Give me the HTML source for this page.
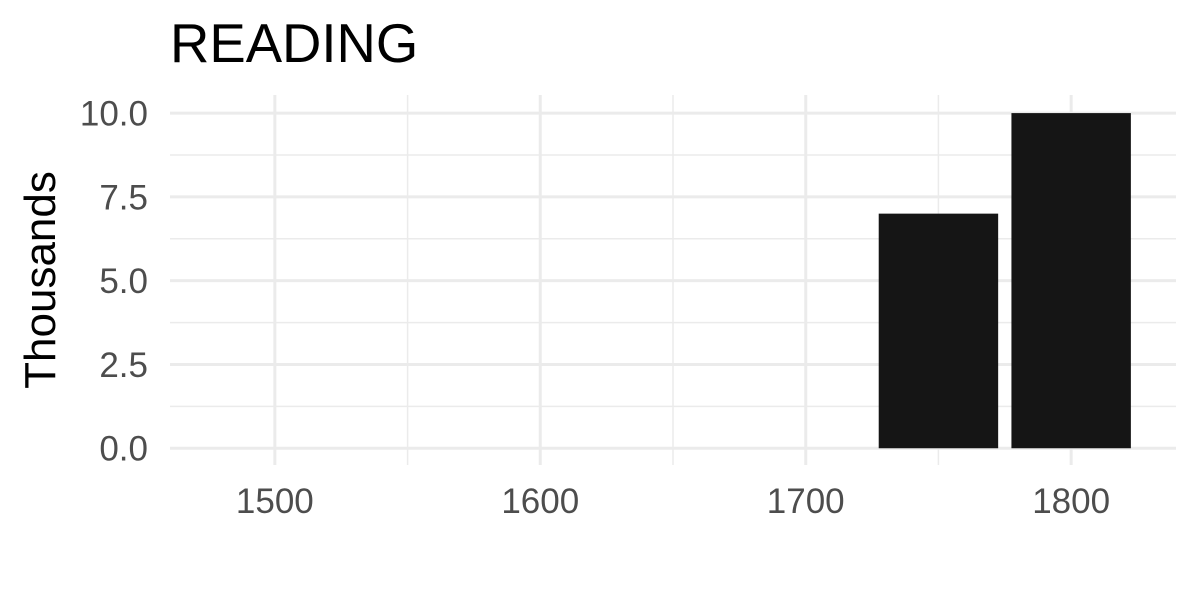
<!DOCTYPE html>
<html><head><meta charset="utf-8"><style>
body{margin:0;background:#fff;}
svg{display:block;font-family:"Liberation Sans",Arial,sans-serif;}
</style></head><body>
<svg id="chart" width="1200" height="600">
<text x="170" y="62" font-size="54.5" fill="#000">READING</text>
<text transform="translate(55,280) rotate(-90)" text-anchor="middle" font-size="44" fill="#000">Thousands</text>
<g id="grid"></g><g id="bars"></g><g id="ticks"></g>
</svg>
<script>
const categories=[1750,1800];
const values=[7.0,10.0];
const barWidthYears=45;
const yTicks=[0,2.5,5,7.5,10];
const yTickLabels=["0.0","2.5","5.0","7.5","10.0"];
const xTicks=[1500,1600,1700,1800];
const xMinor=[1550,1650,1750];
const yMinor=[1.25,3.75,6.25,8.75];
const L=170,R=1176,T=95,B=465;
const xMin=1460.5,xMax=1839.5,yMin=-0.5,yMax=10.54;
const sx=v=>L+(v-xMin)/(xMax-xMin)*(R-L);
const sy=v=>B-(v-yMin)/(yMax-yMin)*(B-T);
const NS="http://www.w3.org/2000/svg";
function mk(tag,attrs,parent){const e=document.createElementNS(NS,tag);for(const k in attrs)e.setAttribute(k,attrs[k]);parent.appendChild(e);return e;}
const g=document.getElementById('grid'),b=document.getElementById('bars'),t=document.getElementById('ticks');
yMinor.forEach(v=>{const e=mk('line',{x1:L,x2:R,y1:sy(v),y2:sy(v),stroke:'#ebebeb','stroke-width':1.5},g);

});
xMinor.forEach(v=>{const e=mk('line',{x1:sx(v),x2:sx(v),y1:T,y2:B,stroke:'#ebebeb','stroke-width':1.5},g);

});
yTicks.forEach((v,i)=>{const e=mk('line',{x1:L,x2:R,y1:sy(v),y2:sy(v),stroke:'#ebebeb','stroke-width':3},g);


const tx=mk('text',{x:148,y:sy(v)+12.5,'text-anchor':'end','font-size':35,fill:'#4d4d4d'},t);tx.textContent=yTickLabels[i];

});
xTicks.forEach(v=>{const e=mk('line',{x1:sx(v),x2:sx(v),y1:T,y2:B,stroke:'#ebebeb','stroke-width':3},g);


const tx=mk('text',{x:sx(v),y:513,'text-anchor':'middle','font-size':35,fill:'#4d4d4d'},t);tx.textContent=v;

});
categories.forEach((c,i)=>{const x0=sx(c-barWidthYears/2),x1=sx(c+barWidthYears/2);
const r=mk('rect',{x:x0,y:sy(values[i]),width:x1-x0,height:sy(0)-sy(values[i]),fill:'#151515'},b);

});
</script>
</body></html>
